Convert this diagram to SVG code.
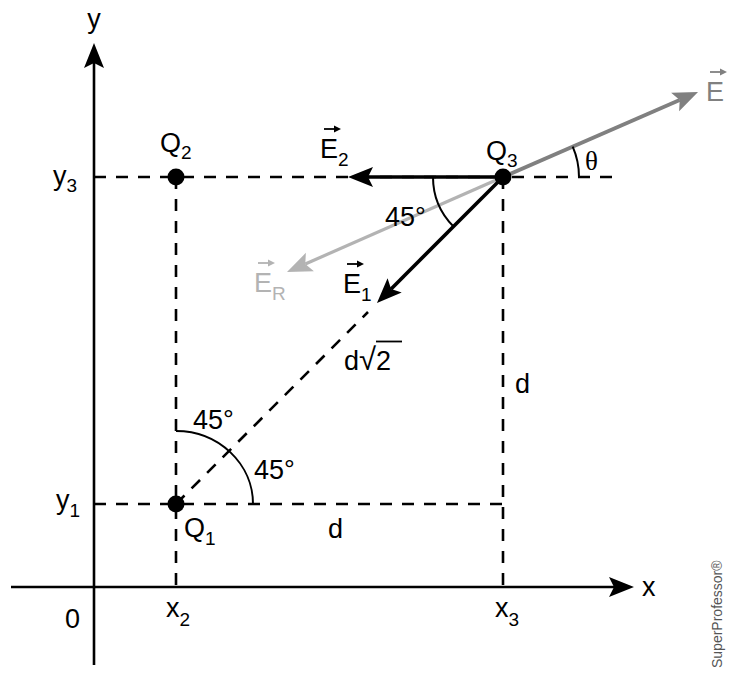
<svg xmlns="http://www.w3.org/2000/svg" width="738" height="677" viewBox="0 0 738 677">
<style>
text{font-family:"Liberation Sans",Arial,sans-serif;font-size:27px;fill:#000}
.sub{font-size:19px}
.ax{stroke:#000;stroke-width:2.6;fill:none}
.dash{stroke:#000;stroke-width:2.6;fill:none;stroke-dasharray:12 10}
.arc{stroke:#000;stroke-width:2;fill:none}
.vec{stroke-width:1.8;fill:none}
</style>
<defs>
<marker id="hk" markerUnits="userSpaceOnUse" markerWidth="30" markerHeight="24" viewBox="0 -12 30 24" refX="5" refY="0" orient="auto"><path d="M25,0 L0,-10 L5,0 L0,10 Z" fill="#000"/></marker>
<marker id="hg" markerUnits="userSpaceOnUse" markerWidth="30" markerHeight="24" viewBox="0 -12 30 24" refX="5" refY="0" orient="auto"><path d="M25,0 L0,-10 L5,0 L0,10 Z" fill="#808080"/></marker>
<marker id="hl" markerUnits="userSpaceOnUse" markerWidth="30" markerHeight="24" viewBox="0 -12 30 24" refX="5" refY="0" orient="auto"><path d="M25,0 L0,-10 L5,0 L0,10 Z" fill="#b3b3b3"/></marker>
<marker id="vk" markerUnits="userSpaceOnUse" markerWidth="9" markerHeight="9" viewBox="0 -4.5 9 9" refX="1" refY="0" orient="auto"><path d="M7,0 L0,-3.5 L0,3.5 Z" fill="#000"/></marker>
<marker id="vg" markerUnits="userSpaceOnUse" markerWidth="9" markerHeight="9" viewBox="0 -4.5 9 9" refX="1" refY="0" orient="auto"><path d="M7,0 L0,-3.5 L0,3.5 Z" fill="#808080"/></marker>
<marker id="vl" markerUnits="userSpaceOnUse" markerWidth="9" markerHeight="9" viewBox="0 -4.5 9 9" refX="1" refY="0" orient="auto"><path d="M7,0 L0,-3.5 L0,3.5 Z" fill="#b3b3b3"/></marker>
</defs>

<g id="axes">
<line class="ax" x1="94" y1="665" x2="94" y2="63" marker-end="url(#hk)"/>
<line class="ax" x1="11" y1="587" x2="614" y2="587" marker-end="url(#hk)"/>
<text x="94" y="28" text-anchor="middle">y</text>
<text x="642" y="596">x</text>
<text x="65" y="628">0</text>
<text x="166" y="617">x<tspan class="sub" dy="9">2</tspan></text>
<text x="495" y="617">x<tspan class="sub" dy="9">3</tspan></text>
<text x="53" y="185">y<tspan class="sub" dy="7">3</tspan></text>
<text x="56" y="509">y<tspan class="sub" dy="8">1</tspan></text>
</g>

<g id="connectors">
<line class="dash" x1="94" y1="177" x2="620" y2="177"/>
<line class="dash" x1="94" y1="504" x2="503" y2="504"/>
<line class="dash" x1="176" y1="177" x2="176" y2="587"/>
<line class="dash" x1="503" y1="177" x2="503" y2="587"/>
<line class="dash" x1="176" y1="504" x2="368" y2="312"/>
<line stroke="#b3b3b3" stroke-width="3.2" x1="503" y1="177" x2="305.3" y2="264" marker-end="url(#hl)"/>
<line stroke="#808080" stroke-width="3.8" x1="503" y1="177" x2="679.7" y2="100" marker-end="url(#hg)"/>
<line stroke="#000" stroke-width="3.6" x1="503" y1="177" x2="368" y2="177" marker-end="url(#hk)"/>
<line stroke="#000" stroke-width="3.6" x1="503" y1="177" x2="391.1" y2="288.9" marker-end="url(#hk)"/>
<path class="arc" d="M433,177 A70,70 0 0 0 453.5,226.5"/>
<path class="arc" d="M579,177 A76,76 0 0 0 572.7,146.6"/>
<path class="arc" d="M176,431 A77,73 0 0 1 253,504"/>
</g>

<g id="Q1">
<circle cx="176" cy="504" r="8.5" fill="#000"/>
<text x="184" y="537">Q<tspan class="sub" dy="8">1</tspan></text>
</g>
<g id="Q2">
<circle cx="176" cy="177" r="8.5" fill="#000"/>
<text x="160" y="152">Q<tspan class="sub" dy="7">2</tspan></text>
</g>
<g id="Q3">
<circle cx="503" cy="177" r="8.5" fill="#000"/>
<text x="486" y="160">Q<tspan class="sub" dy="7">3</tspan></text>
</g>

<g id="labels">
<line class="vec" stroke="#000" x1="324" y1="129" x2="335" y2="129" marker-end="url(#vk)"/>
<text x="320" y="158">E<tspan class="sub" dy="8">2</tspan></text>
<line class="vec" stroke="#000" x1="347" y1="264" x2="358" y2="264" marker-end="url(#vk)"/>
<text x="343" y="293">E<tspan class="sub" dy="8">1</tspan></text>
<line class="vec" stroke="#b3b3b3" x1="258" y1="263" x2="269" y2="263" marker-end="url(#vl)"/>
<text x="254" y="292" style="fill:#b3b3b3">E<tspan class="sub" dy="8">R</tspan></text>
<line class="vec" stroke="#808080" x1="710" y1="72" x2="721" y2="72" marker-end="url(#vg)"/>
<text x="706" y="101" style="fill:#808080">E</text>
<text x="585" y="170" style="font-family:'Liberation Serif','Times New Roman',serif">θ</text>
<text x="385" y="226">45°</text>
<text x="193" y="429">45°</text>
<text x="254" y="479">45°</text>
<text x="344" y="370">d<tspan style="font-size:31px">√</tspan>2</text>
<line x1="376" y1="341.5" x2="402" y2="341.5" stroke="#000" stroke-width="1.8"/>
<text x="515" y="393">d</text>
<text x="328" y="538">d</text>
<text transform="translate(722,668) rotate(-90)" style="font-size:14px;fill:#555">SuperProfessor®</text>
</g>
</svg>
